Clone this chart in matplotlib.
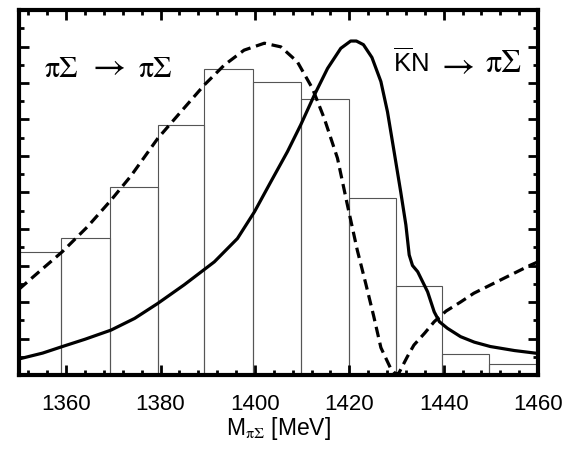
import matplotlib
matplotlib.use('Agg')
import matplotlib.pyplot as plt
from matplotlib.ticker import MultipleLocator

plt.rcParams['font.family'] = 'Liberation Sans'
plt.rcParams['mathtext.fontset'] = 'custom'
plt.rcParams['mathtext.rm'] = 'STIXGeneral'
plt.rcParams['mathtext.sf'] = 'Liberation Sans'
plt.rcParams['mathtext.it'] = 'STIXGeneral:italic'

# histogram (bin edges and heights)
bin_edges = [1349, 1359, 1369.3, 1379.4, 1389.2, 1399.6, 1409.8,
             1420, 1429.8, 1439.7, 1449.7, 1460]
bin_heights = [0.336, 0.374, 0.514, 0.684, 0.838, 0.804, 0.756,
               0.484, 0.243, 0.057, 0.031]

# solid curve: KN -> pi Sigma
kn_x = [1350, 1355, 1359.2, 1364, 1369.5, 1374.5, 1379.4, 1385, 1391.4,
        1396.3, 1399.9, 1403.4, 1406.9, 1409.7, 1412.6, 1415.4, 1418.2,
        1420.3, 1421.5, 1423, 1424.8, 1426.7, 1428.1, 1429.5, 1430.9,
        1432, 1432.7, 1433.4, 1434.5, 1436.6, 1438, 1439.1, 1440.8,
        1443.6, 1446.5, 1449.9, 1455, 1460]
kn_y = [0.044, 0.060, 0.078, 0.098, 0.123, 0.155, 0.196, 0.247, 0.31,
        0.374, 0.447, 0.53, 0.612, 0.685, 0.767, 0.84, 0.895,
        0.915, 0.915, 0.905, 0.87, 0.804, 0.721, 0.612, 0.502,
        0.411, 0.329, 0.30, 0.283, 0.228, 0.173, 0.146, 0.128,
        0.105, 0.09, 0.078, 0.067, 0.059]

# dashed curve: pi Sigma -> pi Sigma
ps_x = [1350, 1354, 1359.2, 1364.5, 1369.5, 1373.7, 1379.4, 1384.3,
        1389.3, 1393.5, 1397.7, 1402, 1405.5, 1409, 1412.2, 1414.7,
        1417.5, 1419.6, 1421.7, 1423.5, 1425.2, 1426.7, 1428.7, 1429.8,
        1430.5, 1432.3, 1433.7, 1436, 1438, 1440.5, 1443.6, 1446.4,
        1452, 1458.4, 1460]
ps_y = [0.235, 0.28, 0.338, 0.406, 0.479, 0.545, 0.648, 0.721,
        0.795, 0.849, 0.890, 0.909, 0.899, 0.858, 0.785, 0.703,
        0.594, 0.466, 0.342, 0.25, 0.16, 0.075, 0.02, 0.003,
        0.005, 0.05, 0.082, 0.115, 0.146, 0.175, 0.2, 0.224,
        0.26, 0.301, 0.31]

fig = plt.figure(figsize=(5.76, 4.53), dpi=100)
ax = fig.add_axes([19 / 576, 1 - 375 / 453, 519 / 576, 365 / 453])

widths = [b - a for a, b in zip(bin_edges[:-1], bin_edges[1:])]
ax.bar(bin_edges[:-1], bin_heights, width=widths, align='edge',
       fill=False, edgecolor='#555555', linewidth=0.8)

ax.plot(kn_x, kn_y, color='black', linewidth=2.3)
ax.plot(ps_x, ps_y, color='black', linewidth=2.3, linestyle=(0, (3.3, 1.8)))

ax.set_xlim(1350, 1460)
ax.set_ylim(0, 1)
ax.xaxis.set_major_locator(MultipleLocator(20))
ax.xaxis.set_minor_locator(MultipleLocator(4))
ax.yaxis.set_major_locator(MultipleLocator(0.1))
ax.yaxis.set_minor_locator(MultipleLocator(0.05))
ax.tick_params(which='both', direction='in', top=True, right=True,
               labelleft=False, width=2, labelsize=16, pad=14)
ax.tick_params(which='major', length=7)
ax.tick_params(which='minor', length=3.5)
for s in ax.spines.values():
    s.set_linewidth(3)

ax.set_xlabel(r'M$_{\mathrm{\pi\Sigma}}$ [MeV]', fontsize=16.5, labelpad=0)

# channel labels, drawn piece by piece
serif = dict(family='STIXGeneral', transform=ax.transAxes, va='baseline')
ax.text(0.050, 0.817, 'πΣ', ha='left', fontsize=21.5, **serif)
ax.text(0.1410, 0.817, '→', ha='left', fontsize=26, **serif)
ax.text(0.2948, 0.817, 'πΣ', ha='right', fontsize=21.5, **serif)

ax.text(0.7206, 0.830, r'$\overline{\mathsf{K}}\mathsf{N}$',
        transform=ax.transAxes, fontsize=18.5, ha='left', va='baseline')
ax.text(0.8144, 0.820, '→', ha='left', fontsize=26, **serif)
ax.text(0.9692, 0.830, 'πΣ', ha='right', fontsize=23, **serif)

fig.savefig('out.png', dpi=100)
